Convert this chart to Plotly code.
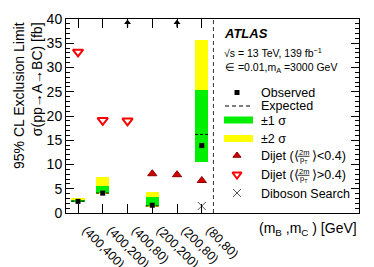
import plotly.graph_objects as go

categories = ["(400,400)", "(400,200)", "(400,80)", "(200,200)", "(200,80)", "(80,80)"]
observed = [2.4, 4.1, None, 1.6, None, 13.9]
expected = [2.45, 4.1, None, 1.45, None, 16.2]
band1_lo = [2.35, 4.1, None, 1.4, None, 10.6]
band1_hi = [2.55, 5.5, None, 3.2, None, 25.4]
band2_lo = [2.2, 4.0, None, 1.3, None, 10.6]
band2_hi = [3.0, 7.4, None, 4.3, None, 35.6]
offscale_obs = [None, None, 39.3, None, 39.3, None]
dijet_low = [None, None, None, 8.1, 7.9, 6.7]
dijet_high = [33.2, 19.1, 19.0, None, None, None]
diboson = [None, None, None, None, None, 1.45]

FONT = "Liberation Sans, Arial, sans-serif"
xs = list(range(len(categories)))
W = 0.54

# page has an 8px body margin; plot area on screen: x 66..359, y 19..213
OFF = 8
def px(x):
    return (x - 66) / 293.0
def py(y):
    return (213 - y) / 194.0

fig = go.Figure()

def valid(vals):
    return [(x, v) for x, v in zip(xs, vals) if v is not None]

pts2 = [(x, lo, hi) for x, lo, hi in zip(xs, band2_lo, band2_hi) if lo is not None]
fig.add_trace(go.Bar(x=[p[0] for p in pts2], base=[p[1] for p in pts2],
                     y=[p[2] - p[1] for p in pts2], width=W,
                     marker=dict(color="#ffff00", line=dict(width=0)), showlegend=False))
pts1 = [(x, lo, hi) for x, lo, hi in zip(xs, band1_lo, band1_hi) if lo is not None]
fig.add_trace(go.Bar(x=[p[0] for p in pts1], base=[p[1] for p in pts1],
                     y=[p[2] - p[1] for p in pts1], width=W,
                     marker=dict(color="#00ee00", line=dict(width=0)), showlegend=False))

ex, ey = [], []
for x, v in valid(expected):
    ex += [x - W / 2, x + W / 2, None]
    ey += [v, v, None]
fig.add_trace(go.Scatter(x=ex, y=ey, mode="lines",
                         line=dict(color="black", width=1, dash="3px,2px"), showlegend=False))

o = valid(observed)
fig.add_trace(go.Scatter(x=[p[0] for p in o], y=[p[1] for p in o], mode="markers",
                         marker=dict(symbol="square", size=5, color="black"), showlegend=False))

a = valid(offscale_obs)
fig.add_trace(go.Scatter(x=[p[0] for p in a], y=[p[1] for p in a], mode="markers",
                         marker=dict(symbol="triangle-up", size=6, color="black"),
                         error_y=dict(type="data", symmetric=False, array=[0] * len(a),
                                      arrayminus=[1.0] * len(a), width=0, thickness=1.3,
                                      color="black"),
                         showlegend=False))

d1 = valid(dijet_low)
fig.add_trace(go.Scatter(x=[p[0] for p in d1], y=[p[1] for p in d1], mode="markers",
                         marker=dict(symbol="triangle-up", size=8, color="#d40000",
                                     line=dict(color="#8a0000", width=1)), showlegend=False))
d2 = valid(dijet_high)
fig.add_trace(go.Scatter(x=[p[0] for p in d2], y=[p[1] for p in d2], mode="markers",
                         marker=dict(symbol="triangle-down-open", size=9, color="#ff0000",
                                     line=dict(color="#ff0000", width=2)), showlegend=False))
db = valid(diboson)
fig.add_trace(go.Scatter(x=[p[0] for p in db], y=[p[1] for p in db], mode="markers",
                         marker=dict(symbol="x-thin-open", size=8, color="#555555",
                                     line=dict(color="#555555", width=1)), showlegend=False))

# ---- legend keys ----
L = dict(xaxis="x2", yaxis="y2", showlegend=False, hoverinfo="skip")
fig.add_trace(go.Scatter(x=[237], y=[92.5], mode="markers",
                         marker=dict(symbol="square", size=5, color="black"), **L))
fig.add_trace(go.Scatter(x=[225, 250], y=[106, 106], mode="lines",
                         line=dict(color="black", width=1, dash="4px,3px"), **L))
fig.add_trace(go.Scatter(x=[237], y=[155.5], mode="markers",
                         marker=dict(symbol="triangle-up", size=7, color="#d40000",
                                     line=dict(color="#8a0000", width=1)), **L))
fig.add_trace(go.Scatter(x=[237], y=[174.5], mode="markers",
                         marker=dict(symbol="triangle-down-open", size=8, color="#ff0000",
                                     line=dict(color="#ff0000", width=2)), **L))
fig.add_trace(go.Scatter(x=[237], y=[193], mode="markers",
                         marker=dict(symbol="x-thin-open", size=8, color="#555555",
                                     line=dict(color="#555555", width=1)), **L))

shapes = [
    dict(type="rect", xref="x2", yref="y2", x0=224, x1=253, y0=116.5, y1=123.5,
         fillcolor="#00ee00", line=dict(width=0)),
    dict(type="rect", xref="x2", yref="y2", x0=224, x1=253, y0=135, y1=142,
         fillcolor="#ffff00", line=dict(width=0)),
    dict(type="line", xref="x", yref="paper", x0=5.47, x1=5.47, y0=0, y1=1,
         line=dict(color="#333333", width=1, dash="4px,3px")),
]

ann = []
def txt(x, y, s, size=12.5, anchor="left"):
    ann.append(dict(xref="x2", yref="y2", x=x, y=y, text=s, showarrow=False,
                    xanchor=anchor, yanchor="middle",
                    font=dict(family=FONT, size=size, color="black")))

txt(222, 33, "<b><i>ATLAS</i></b>", 13)
txt(222, 52, "√s = 13 TeV, 139 fb<sup>−1</sup>", 10.5)
txt(223, 67.5, "∈ =0.01,m<sub>A</sub> =3000 GeV", 10.5)
txt(259, 92.5, "Observed")
txt(259, 106, "Expected")
txt(259, 121, "±1 σ")
txt(259, 139, "±2 σ")
for yy, cmp in [(156, "<"), (175, ">")]:
    txt(259, yy, "Dijet (⟨")
    txt(303.5, yy - 3.6, "2m", 7.5, "center")
    txt(303.5, yy + 4.2, "p<sub>T</sub>", 7.5, "center")
    shapes.append(dict(type="line", xref="x2", yref="y2", x0=297.5, x1=309.5,
                       y0=yy + 0.3, y1=yy + 0.3, line=dict(color="black", width=0.8)))
    txt(309.5, yy, "⟩" + cmp + "0.4)")
txt(259, 193.5, "Diboson Search")

ann.append(dict(xref="paper", yref="paper", x=1.0, y=py(218), xanchor="right", yanchor="top",
                text="(m<sub>B</sub> ,m<sub>C</sub> ) [GeV]", showarrow=False,
                font=dict(family=FONT, size=14, color="black")))
ann.append(dict(xref="paper", yref="paper", x=px(28), y=py(96), xanchor="center", yanchor="middle",
                text="95% CL Exclusion Limit<br>σ(pp→A→BC) [fb]", textangle=-90, align="right",
                showarrow=False, font=dict(family=FONT, size=14, color="black")))

fig.update_layout(
    width=374, height=267,
    margin=dict(l=66 - OFF, r=15 + OFF, t=19 - OFF, b=54 + OFF, autoexpand=False),
    paper_bgcolor="white", plot_bgcolor="white",
    barmode="overlay", bargap=0,
    shapes=shapes, annotations=ann,
    xaxis=dict(range=[-0.485, 11.35], tickvals=xs, ticktext=categories, tickangle=45,
               ticks="inside", ticklen=9, tickwidth=1, tickcolor="black",
               showline=True, linecolor="black", linewidth=1, mirror="ticks",
               showgrid=False, zeroline=False, ticklabelstandoff=4, ticklabelshift=8,
               automargin=False,
               tickfont=dict(family=FONT, size=12.5, color="black")),
    yaxis=dict(range=[0, 40], dtick=5, ticks="inside", ticklen=8, tickwidth=1, tickcolor="black",
               minor=dict(dtick=1, ticks="inside", ticklen=4, tickcolor="black", showgrid=False),
               showline=True, linecolor="black", linewidth=1, mirror="ticks",
               showgrid=False, zeroline=False, automargin=False,
               tickfont=dict(family=FONT, size=14, color="black")),
    xaxis2=dict(range=[66, 359], overlaying="x", visible=False, fixedrange=True),
    yaxis2=dict(range=[213, 19], overlaying="y", visible=False, fixedrange=True),
)

fig.write_html("out.html")
